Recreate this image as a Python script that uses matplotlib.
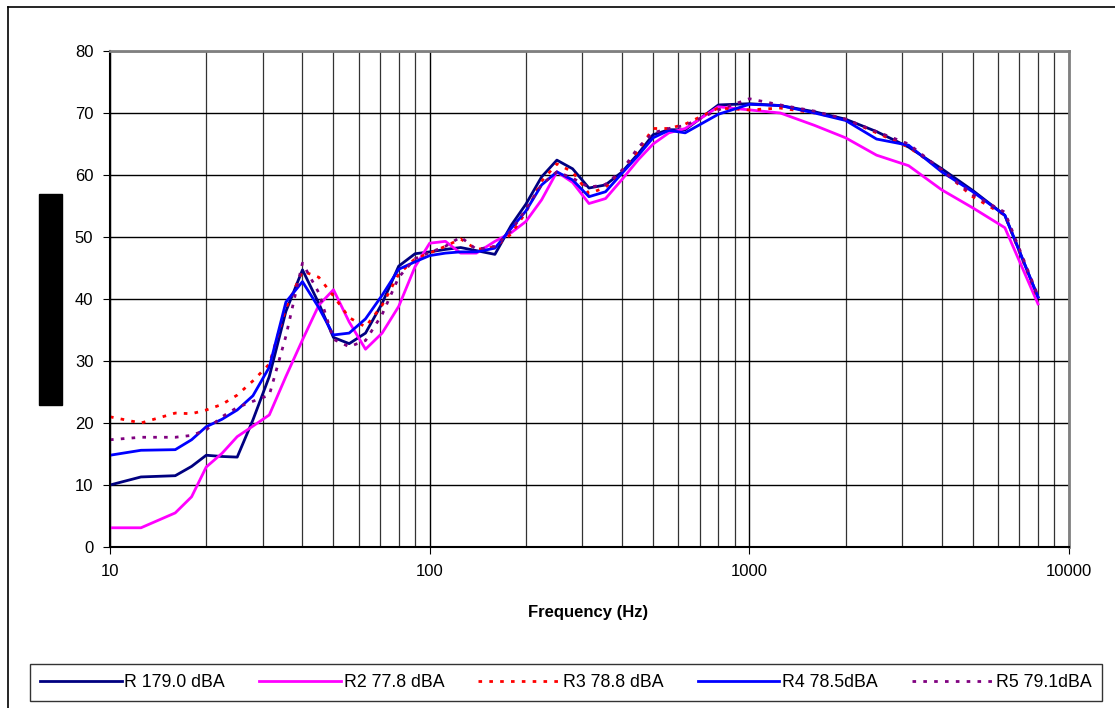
import numpy as np
import matplotlib
matplotlib.use("Agg")
import matplotlib.pyplot as plt
from matplotlib.lines import Line2D
from matplotlib.patches import Rectangle
from matplotlib.ticker import FixedLocator, NullFormatter

plt.rcParams['font.family'] = ['Liberation Sans', 'DejaVu Sans']

# 1/6-octave-ish frequencies
freq = [10, 12.5, 16, 18, 20, 22.4, 25, 28, 31.5, 35.5, 40, 45, 50, 56, 63, 71,
        80, 90, 100, 112, 125, 140, 160, 180, 200, 224, 250, 280, 315, 355, 400,
        450, 500, 560, 630, 800, 1000, 1250, 1600, 2000, 2500, 3150, 4000, 5000,
        6300, 8000]

r1 = [10.0, 11.3, 11.5, 13.0, 14.8, 14.6, 14.5, 20.5, 27.5, 38.0, 44.7, 39.3,
      33.8, 32.8, 34.5, 39.3, 45.3, 47.3, 47.6, 48.0, 48.3, 47.8, 47.2, 51.9,
      55.3, 59.7, 62.4, 61.0, 57.9, 58.4, 60.5, 63.5, 66.5, 67.3, 67.3, 71.3,
      71.5, 71.2, 70.2, 69.0, 67.0, 64.5, 61.0, 57.5, 53.5, 40.3]

r2 = [3.1, 3.1, 5.5, 8.1, 12.9, 15.1, 17.8, 19.5, 21.3, 27.5, 33.4, 39.0,
      41.5, 36.3, 31.9, 34.5, 38.8, 45.2, 49.0, 49.3, 47.4, 47.4, 49.3, 50.7,
      52.5, 56.0, 60.5, 58.8, 55.4, 56.2, 59.3, 62.5, 65.0, 66.8, 67.5, 71.0,
      70.5, 70.0, 68.0, 66.0, 63.2, 61.5, 57.6, 54.7, 51.5, 39.2]

r3 = [21.0, 20.0, 21.6, 21.5, 22.1, 23.0, 24.5, 26.8, 29.5, 38.5, 44.5, 43.5,
      40.5, 37.0, 35.5, 39.0, 44.0, 46.5, 47.4, 48.5, 49.7, 48.0, 48.4, 50.5,
      54.0, 59.0, 61.8, 60.5, 57.0, 58.0, 60.5, 64.0, 67.5, 67.5, 68.2, 70.8,
      70.5, 70.8, 70.0, 69.0, 66.8, 64.5, 60.8, 56.5, 53.5, 40.0]

r4 = [14.8, 15.6, 15.7, 17.3, 19.4, 20.6, 22.1, 24.4, 29.0, 39.5, 42.8, 38.6,
      34.2, 34.5, 36.8, 40.6, 44.8, 46.0, 47.0, 47.4, 47.6, 47.6, 48.2, 51.4,
      54.2, 58.4, 60.5, 59.2, 56.5, 57.3, 60.3, 63.2, 66.0, 67.2, 66.8, 69.8,
      71.4, 71.2, 70.0, 68.8, 65.8, 64.8, 60.5, 57.3, 53.5, 40.3]

r5 = [17.3, 17.7, 17.7, 18.0, 18.9, 21.0, 22.5, 23.5, 24.5, 34.0, 45.8, 41.0,
      33.5, 32.3, 33.3, 37.5, 43.5, 46.5, 47.5, 48.5, 50.0, 48.0, 48.5, 51.0,
      54.5, 58.5, 60.5, 59.5, 58.0, 58.5, 60.8, 64.5, 66.8, 67.5, 68.0, 70.5,
      72.3, 71.3, 70.3, 69.0, 67.0, 65.0, 60.8, 56.8, 54.0, 40.5]

labels = ['R 179.0 dBA', 'R2 77.8 dBA', 'R3 78.8 dBA', 'R4 78.5dBA', 'R5 79.1dBA']
colors = ['#000080', '#FF00FF', '#FF0000', '#0000FF', '#800080']
styles = ['-', '-', (0, (1.3, 2.6)), '-', (0, (1.3, 2.6))]

fig = plt.figure(figsize=(11.15, 7.08), dpi=100)
ax = fig.add_axes([110 / 1115, 1 - 547 / 708, 959 / 1115, 496 / 708])

for vals, lab, c, ls in zip([r1, r2, r3, r4, r5], labels, colors, styles):
    ax.plot(freq, vals, color=c, linestyle=ls, lw=2.0, label=lab)

ax.set_xscale('log')
ax.set_xlim(10, 10000)
ax.set_ylim(0, 80)
ax.set_yticks(range(0, 81, 10))
ax.xaxis.set_major_locator(FixedLocator([10, 100, 1000, 10000]))
ax.set_xticklabels(['10', '100', '1000', '10000'])
minors = [m * d for d in (10, 100, 1000) for m in range(2, 10)]
ax.xaxis.set_minor_locator(FixedLocator(minors))
ax.xaxis.set_minor_formatter(NullFormatter())
ax.tick_params(axis='x', which='minor', length=0)
ax.tick_params(axis='both', which='major', labelsize=12, length=5,
               direction='out', color='black', pad=7)

ax.grid(True, which='major', color='black', lw=1.0)
ax.grid(True, which='minor', axis='x', color='#333333', lw=0.9)
ax.set_axisbelow(True)
for s in ['left', 'bottom']:
    ax.spines[s].set_color('black')
    ax.spines[s].set_linewidth(1.5)
for s in ['top', 'right']:
    ax.spines[s].set_color('#808080')
    ax.spines[s].set_linewidth(2.0)

fig.text(588 / 1115, 1 - 612 / 708, 'Frequency (Hz)', ha='center', va='center',
         fontsize=12, fontweight='bold')

# black block over the y-axis title
fig.add_artist(Rectangle((39 / 1115, 1 - 405 / 708), 23 / 1115, 211 / 708,
                         transform=fig.transFigure, color='black'))

# outer frame
fig.add_artist(Line2D([8 / 1115, 8 / 1115], [0, 1 - 7 / 708],
                      transform=fig.transFigure, color='black', lw=1.2))
fig.add_artist(Line2D([8 / 1115, 1], [1 - 7 / 708, 1 - 7 / 708],
                      transform=fig.transFigure, color='black', lw=1.2))

leg = fig.legend(loc='lower left', ncol=5, mode='expand',
                 bbox_to_anchor=(30 / 1115, 7 / 708, 1072 / 1115, 38 / 708),
                 borderaxespad=0, fontsize=12.8, handlelength=4.6,
                 handletextpad=0.15, frameon=True, fancybox=False,
                 edgecolor='black', borderpad=0.55)
leg.get_frame().set_linewidth(1.0)

fig.savefig('out.png', dpi=100)
